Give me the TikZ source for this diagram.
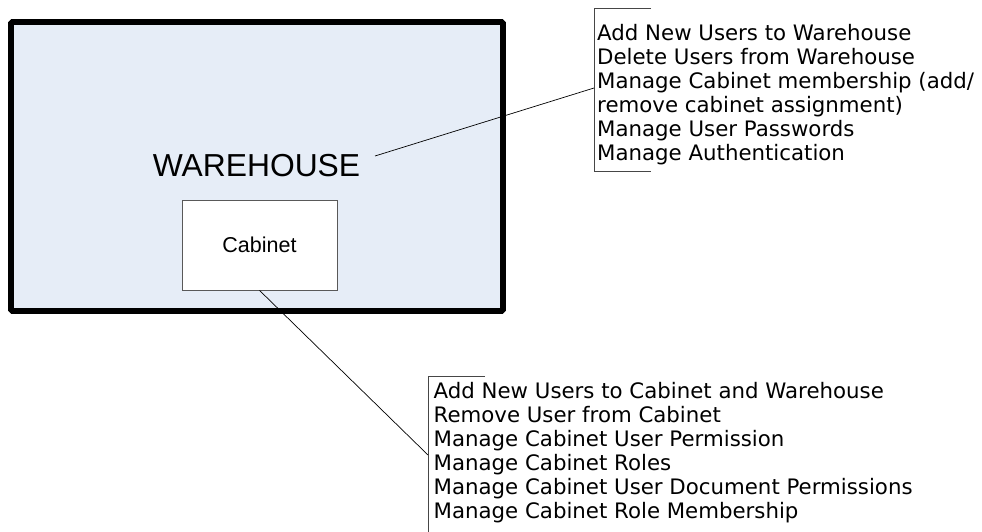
\documentclass[tikz,border=0pt]{standalone}
\usepackage{fontspec}
\setmainfont{Liberation Sans}
\newfontfamily\verd{DejaVu Sans}
\definecolor{whfill}{RGB}{230,237,247}
\definecolor{brgray}{RGB}{70,70,70}
\begin{document}
\begin{tikzpicture}[x=1pt,y=-1pt,
  whbox/.style={draw=black,line width=5.7pt,fill=whfill,rounded corners=1.5pt,minimum width=492pt,minimum height=289pt,inner sep=0pt},
  cabbox/.style={draw=black!65,line width=0.8pt,fill=white,minimum width=155pt,minimum height=90pt,inner sep=0pt,font=\fontsize{21.5}{24}\selectfont},
  notetext/.style={anchor=north west,inner sep=0pt,align=left,font=\verd\fontsize{21.3}{24}\selectfont},
  bracket/.style={draw=brgray,line width=0.8pt},
  leader/.style={draw=black,line width=0.7pt}]
\useasboundingbox (0,0) rectangle (982,532);
\node[whbox] (wh) at (257,166.5) {};
\node[font=\fontsize{31.8}{34}\selectfont,inner sep=0pt] (whlabel) at (256.5,166) {WAREHOUSE};
\node[cabbox] (cab) at (259.5,245) {Cabinet};
% top callout
\coordinate (b1top) at (651,8);
\coordinate (b1tl) at (594,8);
\coordinate (b1bl) at (594,171);
\coordinate (b1bot) at (651,171);
\coordinate (b1hit) at (594,88);
\path[bracket] (b1top) -- (b1tl) -- (b1bl) -- (b1bot);
\node[notetext] (note1) at (597,24.5) {Add New Users to Warehouse\\Delete Users from Warehouse\\Manage Cabinet membership (add/\\remove cabinet assignment)\\Manage User Passwords\\Manage Authentication};
\coordinate (l1start) at (375,156);
\path[leader] (l1start) -- (b1hit);
% bottom callout
\coordinate (b2top) at (485,376);
\coordinate (b2tl) at (428,376);
\coordinate (b2bl) at (428,533);
\coordinate (b2hit) at (428,455);
\path[bracket] (b2top) -- (b2tl) -- (b2bl);
\node[notetext] (note2) at (433.5,382.5) {Add New Users to Cabinet and Warehouse\\Remove User from Cabinet\\Manage Cabinet User Permission\\Manage Cabinet Roles\\Manage Cabinet User Document Permissions\\Manage Cabinet Role Membership};
\path[leader] (cab.south) -- (b2hit);
\end{tikzpicture}
\end{document}
